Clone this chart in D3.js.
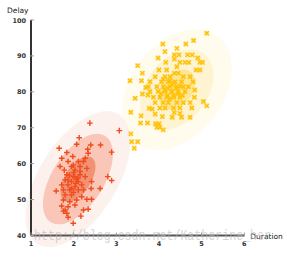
<!DOCTYPE html>
<html><head><meta charset="utf-8">
<script src="https://cdn.jsdelivr.net/npm/d3@7"></script>
<style>html,body{margin:0;padding:0;background:#fff;}svg{display:block;}</style>
</head><body>
<svg id="c" width="287" height="262"></svg>
<script>
const xTicks = [1, 2, 3, 4, 5, 6];
const yTicks = [40, 50, 60, 70, 80, 90, 100];
const xLabel = "Duration";
const yLabel = "Delay";
const watermark = "http://blog.csdn.net/Katherine_hsr";

// Gaussian components: [meanX, meanY, sdX, sdY, correlation]
const redComponent = [2.10, 55.7, 0.41, 6.3, 0.55];
const yellowComponent = [4.42, 80.6, 0.43, 5.6, 0.35];
const sigmaLevels = [3, 2, 1];
const redFills = ["#fdf1ee", "#f9c6b8", "#f29274"];
const yellowFills = ["#fffcee", "#fff4d2", "#ffe696"];

const redPoints = [
[2.38,71.3],[3.07,69.2],[2.13,67.2],[1.66,64.3],[2.07,65.4],[2.40,65.2],[2.63,65.2],[2.33,64.0],
[1.84,63.1],[2.34,62.9],[2.89,63.2],[1.98,62.0],[1.72,61.5],[1.87,60.6],[2.11,60.6],[2.23,60.6],
[1.68,59.2],[1.78,58.2],[1.95,59.2],[2.03,58.2],[2.31,58.7],[1.84,56.9],[1.99,56.4],[2.15,56.9],
[2.27,56.4],[2.80,56.4],[2.89,55.3],[1.80,55.5],[1.95,55.0],[2.07,55.5],[2.42,55.0],[1.72,54.1],
[1.87,54.1],[2.03,53.6],[2.19,54.1],[1.59,52.4],[1.76,52.7],[1.91,52.7],[2.11,52.7],[2.41,53.1],
[2.62,53.1],[1.80,51.3],[1.95,51.3],[2.19,50.8],[2.31,50.1],[2.42,50.1],[1.72,48.2],[1.87,48.0],
[2.03,48.5],[2.34,47.3],[1.76,46.8],[1.84,46.2],[2.17,45.4],[1.87,45.1],[1.99,43.4],
[2.03,56.4],[2.11,55.0],[1.99,59.6],[2.15,59.2],[1.87,55.5],[2.23,52.7],[1.76,49.9],[1.91,49.4],
[2.07,49.9],[1.80,47.1],[2.27,61.5],[2.23,47.1],[2.00,57.5],[2.10,56.0],[1.95,53.0],[2.05,54.5],
[2.15,57.8],[1.90,56.8],[2.00,52.0]
];

const yellowPoints = [
[5.12,96.3],[4.09,93.3],[4.42,92.1],[4.63,93.3],[4.81,94.3],[4.14,91.2],[4.36,90.3],[4.47,90.3],
[4.67,90.3],[4.78,90.3],[3.98,89.4],[4.36,89.1],[4.91,89.4],[4.16,88.2],[4.49,88.2],[4.61,88.2],
[4.70,88.2],[4.96,88.2],[5.02,88.2],[3.50,87.3],[4.42,87.0],[4.00,86.1],[4.18,86.1],[4.87,86.1],
[4.96,86.1],[3.61,85.2],[4.36,85.2],[4.45,85.2],[3.91,84.2],[4.14,84.2],[4.26,84.2],[4.57,84.2],
[4.73,84.2],[3.32,83.1],[3.59,83.1],[3.79,82.8],[4.06,82.8],[4.22,82.8],[4.38,82.8],[4.53,82.8],
[4.80,82.8],[3.75,81.4],[3.95,81.4],[4.10,81.4],[4.26,81.4],[4.42,81.4],[4.57,81.4],[4.69,81.4],
[3.69,81.2],[4.84,80.5],[3.79,80.1],[3.98,80.1],[4.14,80.1],[4.30,80.1],[4.45,80.1],[4.61,80.1],
[3.61,79.4],[3.74,79.1],[3.87,78.5],[4.02,78.5],[4.18,78.5],[4.34,78.5],[4.49,78.5],[4.83,78.5],
[3.44,78.2],[3.91,77.0],[4.10,77.0],[4.22,77.0],[4.42,77.0],[4.57,77.0],[4.73,77.0],[5.04,77.3],
[5.12,76.1],[3.77,75.4],[3.84,75.2],[4.02,75.5],[4.14,75.5],[4.34,75.5],[4.49,75.5],[4.77,75.5],
[3.34,74.3],[4.36,74.2],[4.49,74.0],[3.91,73.8],[3.58,73.3],[4.31,72.9],[4.53,72.9],[4.73,72.9],
[4.08,73.1],[3.57,71.3],[3.73,71.3],[3.92,71.1],[4.00,71.1],[3.95,70.1],[4.02,70.1],[4.10,69.4],
[3.34,68.3],[3.36,66.1],[3.50,66.1],[3.42,64.3],
[4.20,81.0],[4.30,80.0],[4.35,79.0],[4.25,78.0],[4.40,81.0],[4.15,80.5],[4.30,82.0],[4.45,79.5],
[4.20,79.0],[4.35,82.5],[4.05,79.5],[4.50,81.5],[4.10,83.5],[4.55,79.0],[4.25,83.0]
];

const svg = d3.select("#c");
const x = d3.scaleLinear().domain([1, 6]).range([31, 244.3]);
const y = d3.scaleLinear().domain([40, 100]).range([235.5, 20]);

function ellipsePath(comp, k) {
  const [mx, my, sx, sy, r] = comp;
  const a = sx * sx, b = r * sx * sy, c = sy * sy;
  const tr = (a + c) / 2, det = Math.sqrt(((a - c) / 2) ** 2 + b * b);
  const l1 = tr + det, l2 = tr - det;
  let vx = b, vy = l1 - a;
  if (Math.abs(b) < 1e-12) { vx = 1; vy = 0; }
  const n = Math.hypot(vx, vy); vx /= n; vy /= n;
  const pts = d3.range(0, 361, 3).map(deg => {
    const t = deg * Math.PI / 180;
    const u = k * Math.sqrt(l1) * Math.cos(t), w = k * Math.sqrt(l2) * Math.sin(t);
    return [x(mx + u * vx - w * vy), y(my + u * vy + w * vx)];
  });
  return d3.line()(pts) + "Z";
}

const eg = svg.append("g");
[[yellowComponent, yellowFills], [redComponent, redFills]].forEach(([comp, fills]) => {
  sigmaLevels.forEach((k, i) => {
    eg.append("path").attr("d", ellipsePath(comp, k)).attr("fill", fills[i]);
  });
});

// yellow x markers
const yg = svg.append("g");
yellowPoints.forEach(([px, py]) => {
  const cx = x(px), cy = y(py);
  yg.append("rect").attr("x", cx - 2.5).attr("y", cy - 2.5).attr("width", 5).attr("height", 5)
    .attr("fill", "#ffd23c").attr("opacity", 0.45);
  yg.append("path").attr("d", `M${cx-2},${cy-2}L${cx+2},${cy+2}M${cx-2},${cy+2}L${cx+2},${cy-2}`)
    .attr("stroke", "#ffbe00").attr("stroke-width", 1.3);
});
// red + markers
const rg = svg.append("g");
redPoints.forEach(([px, py]) => {
  const cx = x(px), cy = y(py);
  rg.append("path").attr("d", `M${cx-2.8},${cy}L${cx+2.8},${cy}M${cx},${cy-2.8}L${cx},${cy+2.8}`)
    .attr("stroke", "#f04c1c").attr("stroke-width", 1.4);
});

// axes
const ax = svg.append("g").attr("font-family", "DejaVu Sans, sans-serif").attr("font-size", 6.5)
  .attr("font-weight", "bold").attr("fill", "#333");
ax.append("line").attr("x1", x(1)).attr("x2", x(6)).attr("y1", y(40)).attr("y2", y(40))
  .attr("stroke", "#555").attr("stroke-width", 2);
ax.append("line").attr("x1", x(1)).attr("x2", x(1)).attr("y1", y(100)).attr("y2", y(40))
  .attr("stroke", "#333").attr("stroke-width", 2);
xTicks.forEach(t => {
  ax.append("line").attr("x1", x(t)).attr("x2", x(t)).attr("y1", y(40) - 3).attr("y2", y(40) + 1)
    .attr("stroke", "#999").attr("stroke-width", 1);
  ax.append("text").attr("x", x(t)).attr("y", y(40) + 10).attr("text-anchor", "middle").text(t);
});
yTicks.forEach(t => {
  ax.append("line").attr("x1", x(1) - 1).attr("x2", x(1) + 3).attr("y1", y(t)).attr("y2", y(t))
    .attr("stroke", "#999").attr("stroke-width", 1);
  ax.append("text").attr("x", x(1) - 5).attr("y", y(t) + 2.5).attr("text-anchor", "end").text(t);
});
ax.append("text").attr("x", 7).attr("y", 13).attr("font-size", 7.5).attr("font-weight", "normal")
  .attr("fill", "#222").text(yLabel);
ax.append("text").attr("x", x(6) + 6).attr("y", y(40) + 3).attr("font-size", 7.5).attr("font-weight", "normal")
  .attr("fill", "#222").text(xLabel);

// watermark
svg.append("text").attr("x", 34).attr("y", 240).attr("font-family", "Liberation Mono, monospace")
  .attr("font-size", 15).attr("textLength", 237).attr("lengthAdjust", "spacingAndGlyphs")
  .attr("fill", "#b8b8b8").attr("opacity", 0.6).text(watermark);
</script>
</body></html>
